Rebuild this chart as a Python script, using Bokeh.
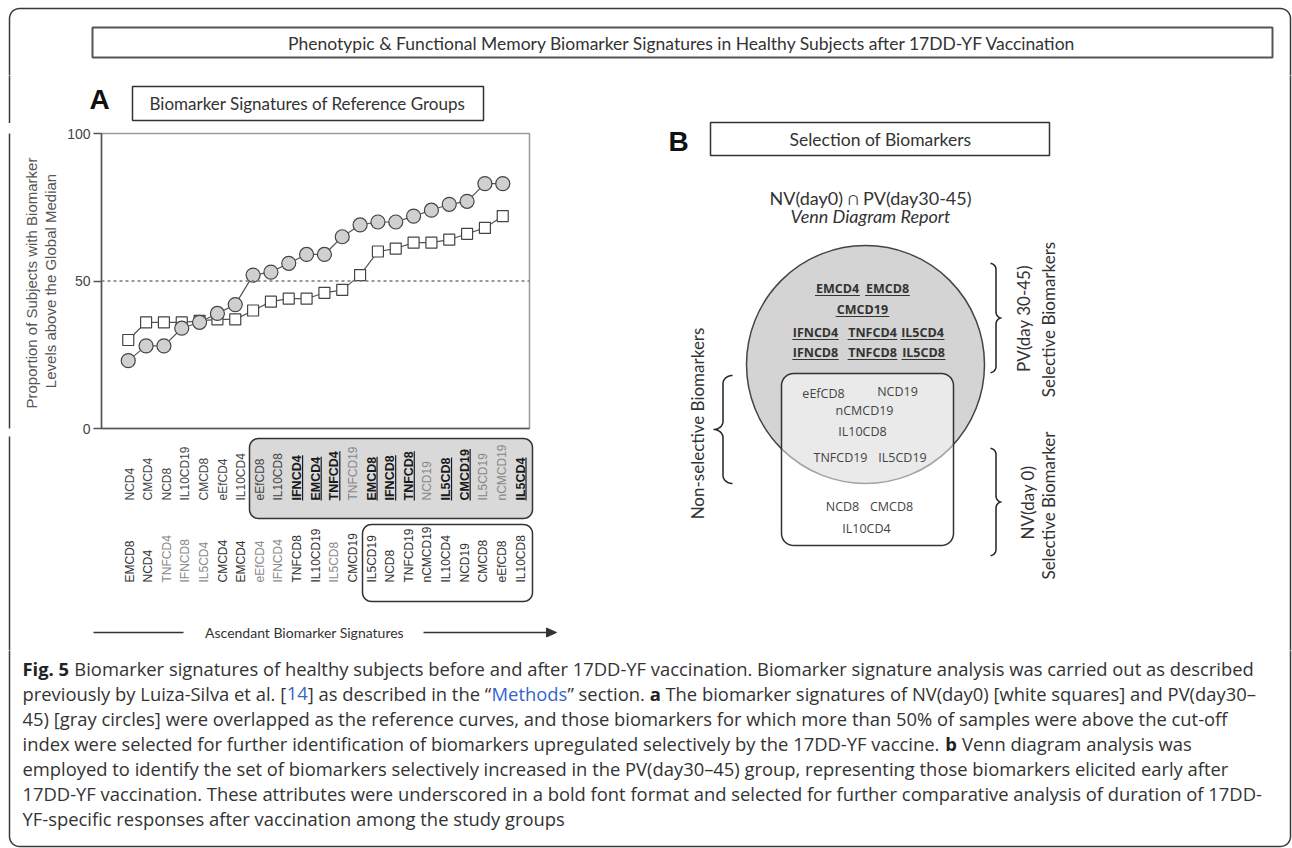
import numpy as np
from bokeh.plotting import figure
from bokeh.layouts import column, row
from bokeh.models import Range1d, FixedTicker, Span
from bokeh.core.properties import value
from bokeh.embed import file_html
from bokeh.resources import INLINE

# ---------------- data ----------------
rank = list(range(1, 23))
pv_labels = ["NCD4", "CMCD4", "NCD8", "IL10CD19", "CMCD8", "eEfCD4", "IL10CD4", "eEfCD8",
             "IL10CD8", "IFNCD4", "EMCD4", "TNFCD4", "TNFCD19", "EMCD8", "IFNCD8", "TNFCD8",
             "NCD19", "IL5CD8", "CMCD19", "IL5CD19", "nCMCD19", "IL5CD4"]
pv_values = [23, 28, 28, 34, 36, 39, 42, 52, 53, 56, 59, 59, 65, 69, 70, 70, 72, 74, 76, 77, 83, 83]
nv_labels = ["EMCD8", "NCD4", "TNFCD4", "IFNCD8", "IL5CD4", "CMCD4", "EMCD4", "eEfCD4",
             "IFNCD4", "TNFCD8", "IL10CD19", "IL5CD8", "CMCD19", "IL5CD19", "NCD8", "TNFCD19",
             "nCMCD19", "IL10CD4", "NCD19", "CMCD8", "eEfCD8", "IL10CD8"]
nv_values = [30, 36, 36, 36, 36.5, 37, 37, 40, 43, 44, 44, 46, 47, 52, 60, 61, 63, 63, 64, 66, 68, 72]
selective = ["IFNCD4", "EMCD4", "TNFCD4", "EMCD8", "IFNCD8", "TNFCD8", "IL5CD8", "CMCD19", "IL5CD4"]
y_ticks = [0, 50, 100]
cutoff = 50

venn_pv = ["EMCD4", "EMCD8", "CMCD19", "IFNCD4", "TNFCD4", "IL5CD4", "IFNCD8", "TNFCD8", "IL5CD8"]
venn_shared = ["eEfCD8", "NCD19", "nCMCD19", "IL10CD8", "TNFCD19", "IL5CD19"]
venn_nv = ["NCD8", "CMCD8", "IL10CD4"]

caption = [
    [("Fig. 5", "bold"), (" Biomarker signatures of healthy subjects before and after 17DD-YF vaccination. Biomarker signature analysis was carried out as described", "normal")],
    [("previously by Luiza-Silva et al. [", "normal"), ("14", "link"), ("] as described in the \u201c", "normal"), ("Methods", "link"), ("\u201d section. ", "normal"), ("a", "bold"), (" The biomarker signatures of NV(day0) [white squares] and PV(day30\u2013", "normal")],
    [("45) [gray circles] were overlapped as the reference curves, and those biomarkers for which more than 50% of samples were above the cut-off", "normal")],
    [("index were selected for further identification of biomarkers upregulated selectively by the 17DD-YF vaccine. ", "normal"), ("b", "bold"), (" Venn diagram analysis was", "normal")],
    [("employed to identify the set of biomarkers selectively increased in the PV(day30\u201345) group, representing those biomarkers elicited early after", "normal")],
    [("17DD-YF vaccination. These attributes were underscored in a bold font format and selected for further comparative analysis of duration of 17DD-", "normal")],
    [("YF-specific responses after vaccination among the study groups", "normal")],
]

# ---------------- styles / helpers ----------------
INK = "#333333"
ARIAL = "Liberation Sans"
CAL = "Lato"
OPEN = "Open Sans"

OS = {' ': 0.26, 'a': 0.556, 'b': 0.613, 'c': 0.476, 'd': 0.613, 'e': 0.561, 'f': 0.339, 'g': 0.548,
      'h': 0.614, 'i': 0.253, 'j': 0.253, 'k': 0.525, 'l': 0.253, 'm': 0.930, 'n': 0.614, 'o': 0.604,
      'p': 0.613, 'q': 0.613, 'r': 0.408, 's': 0.477, 't': 0.353, 'u': 0.614, 'v': 0.501, 'w': 0.778,
      'x': 0.524, 'y': 0.502, 'z': 0.478, 'A': 0.633, 'B': 0.648, 'C': 0.631, 'D': 0.729, 'E': 0.556,
      'F': 0.516, 'G': 0.728, 'H': 0.738, 'I': 0.295, 'J': 0.273, 'K': 0.618, 'L': 0.519, 'M': 0.903,
      'N': 0.754, 'O': 0.779, 'P': 0.602, 'Q': 0.779, 'R': 0.618, 'S': 0.549, 'T': 0.553, 'U': 0.728,
      'V': 0.595, 'W': 0.926, 'X': 0.577, 'Y': 0.564, 'Z': 0.577, '.': 0.266, ',': 0.245, '-': 0.322,
      '(': 0.295, ')': 0.295, '[': 0.329, ']': 0.329, '%': 0.833, '\u201c': 0.36, '\u201d': 0.36,
      '\u2013': 0.5}
AB = {'I': 0.278, 'F': 0.611, 'N': 0.722, 'C': 0.722, 'D': 0.722, 'E': 0.667, 'M': 0.833,
      'T': 0.611, 'L': 0.611}


def os_em(s, bold=False):
    w = sum(OS.get(c, 0.572) for c in s)
    return w * (1.06 if bold else 1.0)


def ab_em(s):
    return sum(AB.get(c, 0.556) for c in s)


def rrect(x0, y0, x1, y1, r, n=10):
    xs, ys = [], []
    for cx, cy, a0, a1 in [(x1 - r, y0 + r, -90, 0), (x1 - r, y1 - r, 0, 90),
                           (x0 + r, y1 - r, 90, 180), (x0 + r, y0 + r, 180, 270)]:
        for t in np.linspace(np.radians(a0), np.radians(a1), n):
            xs.append(cx + r * np.cos(t))
            ys.append(cy + r * np.sin(t))
    return xs, ys


def brace(xb, y0, y1, d, r=7, n=10):
    ym = (y0 + y1) / 2.0
    h = d / 2.0
    t1 = np.linspace(-np.pi / 2, 0, n)
    xa = xb + h * np.cos(t1)
    ya = y0 + r + r * np.sin(t1)
    t2 = np.linspace(np.pi, np.pi / 2, n)
    xc = xb + 2 * h + h * np.cos(t2)
    yc = ym - r + r * np.sin(t2)
    xt = np.concatenate([xa, xc])
    yt = np.concatenate([ya, yc])
    xs = np.concatenate([xt, xt[::-1]])
    ys = np.concatenate([yt, 2 * ym - yt[::-1]])
    return list(xs), list(ys)


def deco(x0, y0, w, h, xr=None):
    p = figure(width=w, height=h,
               x_range=xr if xr is not None else Range1d(x0, x0 + w),
               y_range=Range1d(-(y0 + h), -y0),
               x_axis_location=None, y_axis_location=None, title=None, tools="",
               toolbar_location=None, output_backend="svg", min_border=0,
               outline_line_color=None, background_fill_color="white",
               border_fill_color="white")
    p.grid.visible = False
    return p


def txt(p, x, y, s, size, font=CAL, style="normal", color=INK, align="center",
        baseline="middle", angle=0.0):
    p.text(x=[x], y=[-y], text=[s], text_font=value(font), text_font_size=f"{size}px",
           text_font_style=style, text_color=color, text_align=align,
           text_baseline=baseline, angle=angle)


def outer_frame(p, conv=None):
    xs, ys = rrect(9, 8, 1290, 846, 10)
    if conv is not None:
        xs = [conv(x) for x in xs]
    p.patch(xs, [-y for y in ys], fill_color=None, line_color="#3a3a3a", line_width=1.5)


# ---------------- top band ----------------
top = deco(0, 0, 1292, 75)
outer_frame(top)
top.quad(left=[92], right=[1272], top=[-27], bottom=[-57], fill_color=None,
         line_color="#555555", line_width=2)
txt(top, 682, 43, "Phenotypic & Functional Memory Biomarker Signatures in Healthy Subjects after 17DD-YF Vaccination", 17.5)

# ---------------- panel A header ----------------
a_top = deco(0, 75, 560, 48)
outer_frame(a_top)
txt(a_top, 99, 99, "A", 28, font=ARIAL, style="bold", color="#111111")
a_top.quad(left=[132], right=[483], top=[-86], bottom=[-120], fill_color=None,
           line_color="#333333", line_width=1.5)
txt(a_top, 307, 103, "Biomarker Signatures of Reference Groups", 17)

a_strip = deco(0, 123, 20, 313)
outer_frame(a_strip)

# ---------------- panel A chart ----------------
chart = figure(width=540, height=313, x_range=Range1d(-0.5, 23.5), y_range=Range1d(0, 100),
               title=None, tools="", toolbar_location=None, output_backend="svg",
               min_border_left=80, min_border_right=31, min_border_top=10, min_border_bottom=8,
               outline_line_color="#9a9a9a", outline_line_width=1.5,
               background_fill_color="white", border_fill_color="white")
chart.grid.visible = False
xa = chart.xaxis[0]
xa.ticker = FixedTicker(ticks=[])
xa.major_tick_line_color = None
xa.minor_tick_line_color = None
xa.major_label_text_font_size = "0px"
xa.major_tick_out = 0
xa.major_label_standoff = 0
xa.axis_line_color = "#555555"
xa.axis_line_width = 1.5
ya = chart.yaxis[0]
ya.ticker = FixedTicker(ticks=y_ticks)
ya.major_tick_out = 8
ya.major_tick_in = 0
ya.minor_tick_line_color = None
ya.major_tick_line_color = "#555555"
ya.major_tick_line_width = 1.5
ya.axis_line_color = "#555555"
ya.axis_line_width = 1.5
ya.major_label_text_font = ARIAL
ya.major_label_text_font_size = "14px"
ya.major_label_text_color = "#444444"
ya.major_label_standoff = 3
ya.axis_label = "Proportion of Subjects  with Biomarker\nLevels above the Global Median"
ya.axis_label_text_font = ARIAL
ya.axis_label_text_font_size = "15px"
ya.axis_label_text_font_style = "normal"
ya.axis_label_text_color = "#555555"
ya.axis_label_text_line_height = 1.1
ya.axis_label_standoff = 5

chart.add_layout(Span(location=cutoff, dimension="width", line_dash="3 3",
                      line_color="#777777", line_width=1.5))
chart.line(rank, nv_values, line_color="#555555", line_width=1.2)
chart.scatter(rank, nv_values, marker="square", size=11, fill_color="white",
              line_color="#444444", line_width=1.2)
chart.line(rank, pv_values, line_color="#555555", line_width=1.2)
chart.scatter(rank, pv_values, marker="circle", size=14, fill_color="#d0d0d0",
              line_color="#444444", line_width=1.2)

# ---------------- panel A labels ----------------
k2 = (520.0 - 129.0) / 21.0


def px2cat(px):
    return 1 + (px - 129.0) / k2


a_bot = deco(0, 436, 560, 214, xr=Range1d(px2cat(0), px2cat(560)))
outer_frame(a_bot, conv=px2cat)
bx, by = rrect(249, 438, 532, 518, 9)
a_bot.patch([px2cat(x) for x in bx], [-y for y in by], fill_color="#d9d9d9",
            line_color="#333333", line_width=1.5)
bx, by = rrect(362, 524, 532, 601, 9)
a_bot.patch([px2cat(x) for x in bx], [-y for y in by], fill_color=None,
            line_color="#333333", line_width=1.5)

muted_top = {"TNFCD19", "NCD19", "IL5CD19", "nCMCD19"}
muted_bot = {"TNFCD4", "IFNCD8", "IL5CD4", "eEfCD4", "IFNCD4", "IL5CD8"}
reg = [(i, l) for i, l in zip(rank, pv_labels) if l not in selective]
bld = [(i, l) for i, l in zip(rank, pv_labels) if l in selective]
a_bot.text(x=[i for i, _ in reg], y=[-500] * len(reg), text=[l for _, l in reg],
           text_color=["#888888" if l in muted_top else "#444444" for _, l in reg],
           angle=np.pi / 2, text_align="left", text_baseline="middle",
           text_font=value(ARIAL), text_font_size="12px")
a_bot.text(x=[i for i, _ in bld], y=[-500] * len(bld), text=[l for _, l in bld],
           text_color="#1a1a1a", angle=np.pi / 2, text_align="left", text_baseline="middle",
           text_font=value(ARIAL), text_font_size="12.5px", text_font_style="bold")
off = 5.5 / k2
a_bot.segment(x0=[i + off for i, _ in bld], y0=[-500] * len(bld),
              x1=[i + off for i, _ in bld], y1=[-(500 - ab_em(l) * 12.5) for _, l in bld],
              line_color="#1a1a1a", line_width=1.2)
a_bot.text(x=rank, y=[-582] * len(rank), text=nv_labels,
           text_color=["#8a8a8a" if l in muted_bot else "#333333" for l in nv_labels],
           angle=np.pi / 2, text_align="left", text_baseline="middle",
           text_font=value(ARIAL), text_font_size="12px")
# arrow
a_bot.segment(x0=[px2cat(93), px2cat(423)], y0=[-632, -632], x1=[px2cat(183), px2cat(548)],
              y1=[-632, -632], line_color="#333333", line_width=1.5)
a_bot.patch([px2cat(546), px2cat(556), px2cat(546)], [-627.5, -632, -636.5],
            fill_color="#333333", line_color="#333333")
txt(a_bot, px2cat(304), 632, "Ascendant Biomarker Signatures", 14)

# ---------------- panel B ----------------
b = deco(560, 75, 732, 575)
outer_frame(b)
txt(b, 678, 141, "B", 28, font=ARIAL, style="bold", color="#111111")
b.quad(left=[710], right=[1049], top=[-122], bottom=[-155], fill_color=None,
       line_color="#333333", line_width=1.5)
txt(b, 880, 139, "Selection of Biomarkers", 17.5)
txt(b, 870, 197, "NV(day0) \u2229 PV(day30-45)", 18)
txt(b, 870, 215, "Venn Diagram Report", 18, style="italic")

b.circle(x=[865], y=[-364], radius=119, fill_color="#d4d4d4", line_color="#444444",
         line_width=1.5)
rx, ry = rrect(781, 373, 953, 545, 12)
b.patch(rx, [-y for y in ry], fill_color="white", fill_alpha=0.5, line_color="#333333",
        line_width=1.5)

pv_pos = [(837, 288), (887, 288), (862, 309), (815, 332), (872, 332), (922, 332),
          (815, 352), (872, 352), (923, 352)]
VS = 12.5
for w, (cx, cy) in zip(venn_pv, pv_pos):
    txt(b, cx, cy, w, VS, font=OPEN, style="bold", color="#333333")
    half = os_em(w, bold=True) * VS / 2
    b.segment(x0=[cx - half], y0=[-(cy + 7)], x1=[cx + half], y1=[-(cy + 7)],
              line_color="#333333", line_width=1)
sh_pos = [(823, 393), (897, 391), (864, 410), (862, 431), (840, 457), (902, 457)]
for w, (cx, cy) in zip(venn_shared, sh_pos):
    txt(b, cx, cy, w, 12.5, font=OPEN, color="#444444")
nv_pos = [(842, 506), (891, 506), (866, 528)]
for w, (cx, cy) in zip(venn_nv, nv_pos):
    txt(b, cx, cy, w, 12.5, font=OPEN, color="#444444")

for xb, y0, y1, d, r in [(732, 375, 483, -19, 8), (990, 263, 372, 11, 6), (990, 448, 555, 11, 6)]:
    xs, ys = brace(xb, y0, y1, d, r=r)
    b.line(xs, [-y for y in ys], line_color="#222222", line_width=1.5)

txt(b, 697, 423, "Non-selective Biomarkers", 17, angle=np.pi / 2)
txt(b, 1023, 318, "PV(day 30-45)", 17, angle=np.pi / 2)
txt(b, 1048, 319, "Selective Biomarkers", 17, angle=np.pi / 2)
txt(b, 1027, 502, "NV(day 0)", 17, angle=np.pi / 2)
txt(b, 1048, 505, "Selective Biomarker", 17, angle=np.pi / 2)

# ---------------- caption ----------------
cap = deco(0, 650, 1292, 198)
outer_frame(cap)
line1_em = sum(os_em(t, bold=(s == "bold")) for t, s in caption[0])
CS = 1233.0 / line1_em
colors = {"normal": "#333333", "bold": "#222222", "link": "#3366cc"}
for li, segs in enumerate(caption):
    y = 668 + 25 * li
    cur = 22.0
    for t, s in segs:
        bold = (s == "bold")
        lead = len(t) - len(t.lstrip(" "))
        core = t.strip(" ")
        x = cur + lead * OS[' '] * CS
        txt(cap, x, y, core, round(CS, 2), font=OPEN, style="bold" if bold else "normal",
            color=colors[s], align="left")
        cur += os_em(t, bold=bold) * CS

layout = column(top, row(column(a_top, row(a_strip, chart), a_bot), b), cap)
open("out.html", "w").write(file_html(layout, INLINE))
